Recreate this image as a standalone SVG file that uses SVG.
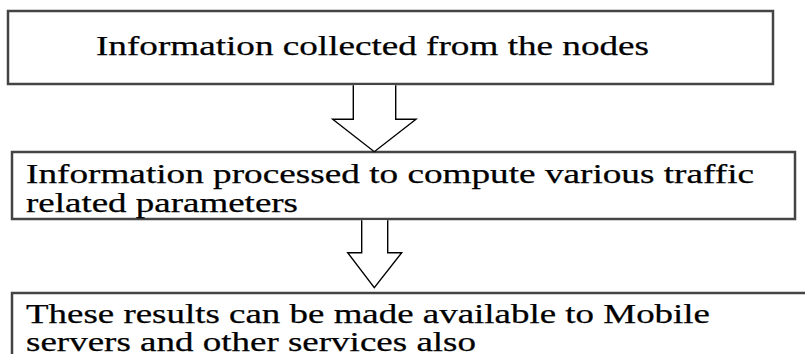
<svg xmlns="http://www.w3.org/2000/svg" width="805" height="354" viewBox="0 0 805 354">
  <style>
    .box { fill: #ffffff; stroke: #444444; stroke-width: 2.5; }
    .label { font-family: "Liberation Serif", "Times New Roman", serif; font-size: 27.6px; fill: #000000; stroke: #000000; stroke-width: 0.25; }
    .arrow { fill: #ffffff; stroke: #000000; stroke-width: 1.4; stroke-linejoin: miter; }
  </style>
  <rect width="805" height="354" fill="#ffffff"/>

  <g id="node-collect">
    <rect class="box" x="8" y="11" width="765" height="73"/>
    <text class="label" x="96" y="54.5" textLength="553" lengthAdjust="spacingAndGlyphs">Information collected from the nodes</text>
  </g>

  <g id="node-process">
    <rect class="box" x="12" y="152" width="783" height="67"/>
    <text class="label" x="26" y="183.3" textLength="728" lengthAdjust="spacingAndGlyphs">Information processed to compute various traffic</text>
    <text class="label" x="26" y="211.7" textLength="272" lengthAdjust="spacingAndGlyphs">related parameters</text>
  </g>

  <g id="node-results">
    <rect class="box" x="12" y="293" width="800" height="100"/>
    <text class="label" x="26" y="323.3" textLength="684" lengthAdjust="spacingAndGlyphs">These results can be made available to Mobile</text>
    <text class="label" x="26" y="351.2" textLength="450" lengthAdjust="spacingAndGlyphs">servers and other services also</text>
  </g>

  <g id="connectors">
    <path class="arrow" d="M353.3,85.3 V119.3 H332.7 L374.3,151.7 L416,119.3 H395.7 V85.3"/>
    <path class="arrow" d="M361.7,220.2 V252.7 H347.7 L374.3,287.7 L401.7,252.7 H387.7 V220.2"/>
  </g>
</svg>
